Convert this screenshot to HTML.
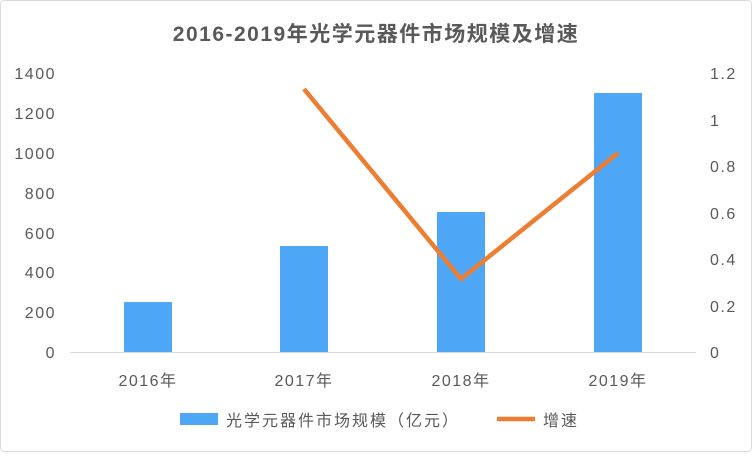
<!DOCTYPE html>
<html><head><meta charset="utf-8"><style>
body{margin:0;background:#fff}
svg text{font-family:"Liberation Sans","Noto Sans CJK SC",sans-serif;fill:#595959}
</style></head><body>
<svg width="752" height="452" viewBox="0 0 752 452" xmlns="http://www.w3.org/2000/svg">
<rect x="0.5" y="0.5" width="751" height="451" rx="4" fill="#fff" stroke="#d9d9d9"/>
<text x="376" y="41" text-anchor="middle" font-size="21" font-weight="bold" letter-spacing="1.5">2016-2019年光学元器件市场规模及增速</text>
<g font-size="16" text-anchor="end" letter-spacing="1.5">
<text x="56" y="358">0</text><text x="56" y="318">200</text><text x="56" y="278">400</text>
<text x="56" y="239">600</text><text x="56" y="199">800</text><text x="56" y="159">1000</text>
<text x="56" y="119">1200</text><text x="56" y="79">1400</text>
</g>
<g font-size="16" text-anchor="start" letter-spacing="1.5">
<text x="710" y="358">0</text><text x="710" y="312">0.2</text><text x="710" y="265">0.4</text>
<text x="710" y="219">0.6</text><text x="710" y="172">0.8</text><text x="710" y="126">1</text>
<text x="710" y="79">1.2</text>
</g>
<g fill="#4ea6f7">
<rect x="124" y="302" width="48" height="50"/>
<rect x="280" y="246" width="48" height="106"/>
<rect x="437" y="212" width="48" height="140"/>
<rect x="594" y="93" width="48" height="259"/>
</g>
<line x1="70" y1="352.5" x2="696" y2="352.5" stroke="#d9d9d9"/>
<polyline points="304,89 461,279 618,153" fill="none" stroke="#ed7d31" stroke-width="4.5" stroke-linejoin="round"/>
<g font-size="16" text-anchor="middle" letter-spacing="1.5">
<text x="148" y="386">2016年</text><text x="304" y="386">2017年</text>
<text x="461" y="386">2018年</text><text x="618" y="386">2019年</text>
</g>
<rect x="180" y="413" width="38" height="12" fill="#4ea6f7"/>
<text x="226" y="426" font-size="16" letter-spacing="2">光学元器件市场规模（亿元）</text>
<line x1="497" y1="419" x2="535" y2="419" stroke="#ed7d31" stroke-width="4.5"/>
<text x="543" y="426" font-size="16" letter-spacing="2">增速</text>
</svg>
</body></html>
